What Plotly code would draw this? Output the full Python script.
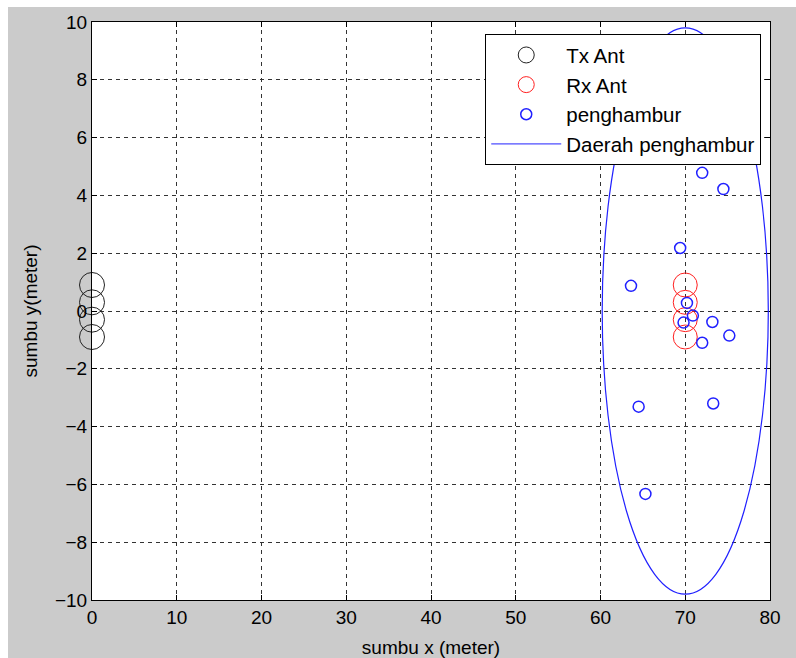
import plotly.graph_objects as go

# ---- data ----
tx_x = [0, 0, 0, 0]
tx_y = [0.9, 0.3, -0.3, -0.9]
rx_x = [70, 70, 70, 70]
rx_y = [0.9, 0.3, -0.3, -0.9]
scat_x = [72.0, 74.5, 69.4, 63.6, 70.2, 70.9, 69.8, 73.2, 75.2, 72.0, 64.5, 73.3, 65.3]
scat_y = [4.78, 4.22, 2.18, 0.87, 0.28, -0.16, -0.40, -0.38, -0.85, -1.10, -3.31, -3.20, -6.33]
region_center = [70, 0]
region_radius = [9.8, 9.8]
x_ticks = [0, 10, 20, 30, 40, 50, 60, 70, 80]
y_ticks = [-10, -8, -6, -4, -2, 0, 2, 4, 6, 8, 10]

FONT = "Liberation Sans, Arial, sans-serif"
GRAY = "#cbcbcb"

fig = go.Figure()
fig.add_trace(go.Scatter(x=tx_x, y=tx_y, mode="markers", name="Tx Ant", cliponaxis=False,
                         marker=dict(symbol="circle-open", size=25, color="#222222",
                                     line=dict(width=1, color="#222222"))))
fig.add_trace(go.Scatter(x=rx_x, y=rx_y, mode="markers", name="Rx Ant", cliponaxis=False,
                         marker=dict(symbol="circle-open", size=24, color="#ff2020",
                                     line=dict(width=1, color="#ff2020"))))
fig.add_trace(go.Scatter(x=scat_x, y=scat_y, mode="markers", name="penghambur",
                         marker=dict(symbol="circle-open", size=11, color="#2020ff",
                                     line=dict(width=1.5, color="#2020ff"))))
fig.add_trace(go.Scatter(x=[None], y=[None], mode="lines", name="Daerah penghambur",
                         line=dict(color="#2020ff", width=1)))

fig.add_shape(type="circle", xref="x", yref="y",
              x0=region_center[0] - region_radius[0], x1=region_center[0] + region_radius[0],
              y0=region_center[1] - region_radius[1], y1=region_center[1] + region_radius[1],
              line=dict(color="#2020ff", width=1.2))

# white strips at the left and top edges of the picture
fig.add_shape(type="rect", xref="paper", yref="paper",
              x0=-92/678 - 0.01, x1=(8 - 92)/678, y0=-58/578 - 0.01, y1=1 + 22/578 + 0.01,
              fillcolor="white", line=dict(width=0), layer="above")
fig.add_shape(type="rect", xref="paper", yref="paper",
              x0=-92/678 - 0.01, x1=1 + 26/678 + 0.01, y0=1 + (22 - 7)/578, y1=1 + 22/578 + 0.01,
              fillcolor="white", line=dict(width=0), layer="above")

axis_common = dict(showline=True, linecolor="black", linewidth=1, mirror="ticks",
                   ticks="inside", ticklen=5, tickcolor="black",
                   showgrid=True, gridcolor="#333333", griddash="4px,4px", gridwidth=1,
                   zeroline=False, tickfont=dict(family=FONT, size=19, color="black"))

fig.update_xaxes(range=[0, 80], tickvals=x_ticks,
                 title=dict(text="sumbu x (meter)", font=dict(family=FONT, size=19, color="black"),
                            standoff=14),
                 **axis_common)
fig.update_yaxes(range=[-10, 10], tickvals=y_ticks,
                 title=dict(text="sumbu y(meter)", font=dict(family=FONT, size=19, color="black"),
                            standoff=12),
                 **axis_common)

fig.update_layout(
    width=796, height=658,
    margin=dict(l=92, r=26, t=22, b=58, autoexpand=False),
    paper_bgcolor=GRAY, plot_bgcolor="white",
    showlegend=True,
    legend=dict(x=0.58, y=0.979, xanchor="left", yanchor="top",
                bgcolor="white", bordercolor="black", borderwidth=1,
                font=dict(family=FONT, size=20.5, color="black"),
                itemwidth=70),
)

fig.write_html("out.html")
